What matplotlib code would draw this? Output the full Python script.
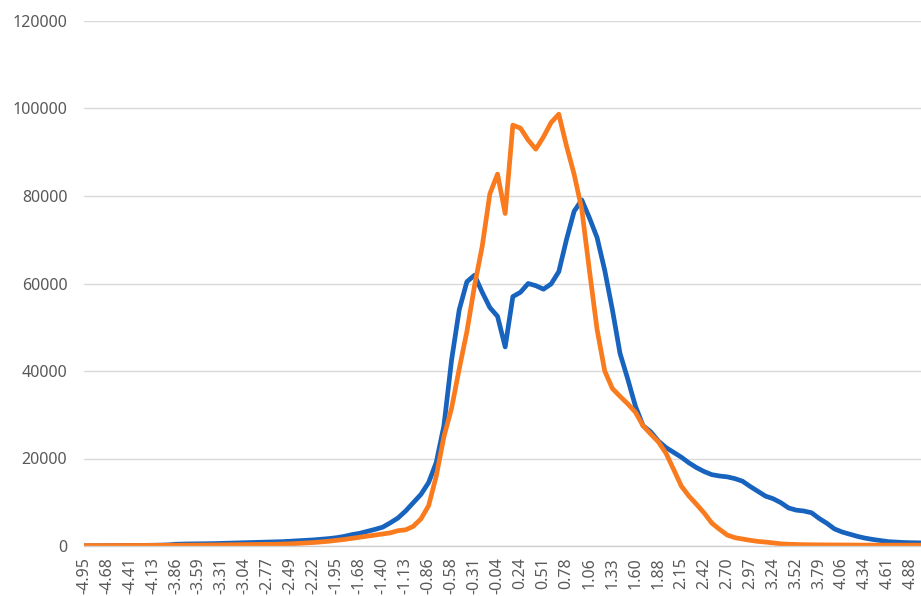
import matplotlib
matplotlib.use("Agg")
import matplotlib.pyplot as plt

# 两条分布曲线（按类别序号 0..109 读取）
blue_values = [
    50, 60, 70, 80, 90, 100, 110, 130, 150, 170,
    200, 250, 400, 450, 480, 500, 520, 550, 600, 650,
    700, 750, 800, 850, 900, 950, 1000, 1100, 1200, 1300,
    1400, 1550, 1700, 1900, 2200, 2600, 2900, 3350, 3800, 4300,
    5300, 6400, 8000, 9900, 11800, 14500, 19100, 27500, 42500, 54000,
    60400, 61900, 58000, 54500, 52500, 45500, 57000, 58000, 60000, 59500,
    58700, 59900, 62700, 70000, 76500, 79100, 75000, 70500, 63000, 54000,
    44000, 38200, 32000, 27500, 26100, 24000, 22500, 21400, 20300, 19000,
    17900, 17000, 16300, 16000, 15800, 15400, 14800, 13600, 12500, 11400,
    10800, 9900, 8700, 8200, 8000, 7600, 6300, 5200, 3900, 3200,
    2700, 2200, 1800, 1500, 1250, 1000, 900, 800, 750, 720,
]
orange_values = [
    100, 100, 110, 110, 120, 120, 130, 130, 140, 150,
    160, 170, 180, 190, 200, 210, 220, 240, 260, 280,
    300, 320, 340, 360, 380, 400, 450, 500, 600, 700,
    800, 950, 1100, 1300, 1500, 1750, 2000, 2250, 2500, 2750,
    3000, 3500, 3700, 4500, 6200, 9200, 16000, 25000, 31500, 40500,
    49000, 59500, 68500, 80500, 85000, 76000, 96200, 95500, 92800, 90700,
    93500, 96800, 98700, 91500, 85000, 77000, 63000, 49500, 40000, 36000,
    34200, 32500, 30600, 27500, 25600, 23800, 21200, 17500, 13700, 11400,
    9500, 7500, 5200, 3800, 2500, 1900, 1600, 1300, 1050, 900,
    700, 500, 400, 350, 300, 280, 260, 250, 240, 230,
    220, 210, 200, 200, 200, 200, 200, 200, 200, 200,
]

# 每隔 3 个类别显示一个标签
tick_labels = [
    "-4.95", "-4.68", "-4.41", "-4.13", "-3.86", "-3.59", "-3.31", "-3.04",
    "-2.77", "-2.49", "-2.22", "-1.95", "-1.68", "-1.40", "-1.13", "-0.86",
    "-0.58", "-0.31", "-0.04", "0.24", "0.51", "0.78", "1.06", "1.33",
    "1.60", "1.88", "2.15", "2.42", "2.70", "2.97", "3.24", "3.52",
    "3.79", "4.06", "4.34", "4.61", "4.88",
]
y_ticks = [0, 20000, 40000, 60000, 80000, 100000, 120000]

plt.rcParams['font.family'] = ['Noto Sans', 'DejaVu Sans']

fig = plt.figure(figsize=(9.21, 5.96), dpi=100)
ax = fig.add_axes([84 / 921, 1 - 546 / 596, 1 - 84 / 921, (546 - 21) / 596])

x = list(range(len(blue_values)))
ax.plot(x, blue_values, color='#1763BE', linewidth=3.4, solid_joinstyle='round')
ax.plot(x, orange_values, color='#FA7A1E', linewidth=3.4, solid_joinstyle='round')

ax.set_xlim(0, 109.3)
ax.set_ylim(0, 120000)

ax.set_yticks(y_ticks)
ax.set_yticklabels([str(v) for v in y_ticks])
ax.set_xticks(list(range(0, 3 * len(tick_labels), 3)))
ax.set_xticklabels(tick_labels, rotation=90)

ax.tick_params(axis='y', length=0, pad=12, labelsize=11.5, labelcolor='#595959')
ax.tick_params(axis='x', length=0, pad=8, labelsize=11.5, labelcolor='#595959')

ax.grid(axis='y', color='#D9D9D9', linewidth=1.0)
ax.set_axisbelow(True)
for side in ['left', 'right', 'top']:
    ax.spines[side].set_visible(False)
ax.spines['bottom'].set_color('#D0D0D0')
ax.spines['bottom'].set_linewidth(1.0)

fig.savefig('out.png', dpi=100)
